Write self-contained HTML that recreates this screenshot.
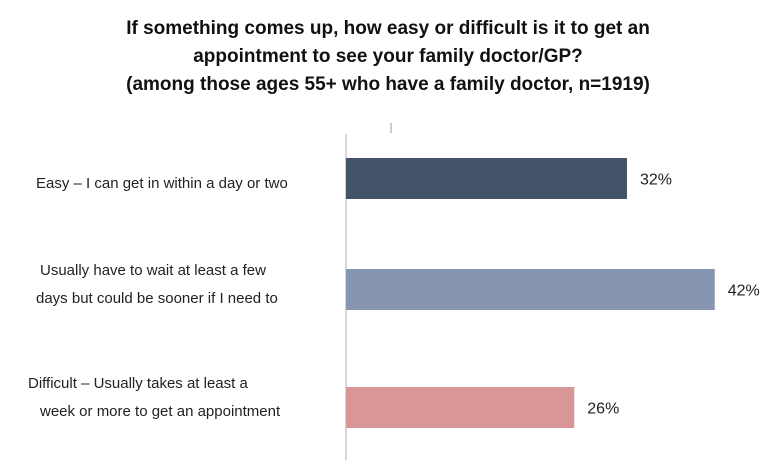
<!DOCTYPE html>
<html><head><meta charset="utf-8"><style>
body{margin:0;background:#fff;width:772px;height:460px;overflow:hidden;font-family:"Liberation Sans",sans-serif;}
</style></head><body>
<svg width="772" height="460">
<g font-weight="bold" font-size="19" fill="#111" text-anchor="middle">
<text x="388" y="34">If something comes up, how easy or difficult is it to get an</text>
<text x="388" y="62">appointment to see your family doctor/GP?</text>
<text x="388" y="90">(among those ages 55+ who have a family doctor, n=1919)</text>
</g>
<line x1="346" y1="134" x2="346" y2="460" stroke="#ccc" stroke-width="1.5"/>
<line x1="391" y1="123" x2="391" y2="133" stroke="#bbb" stroke-width="1.5"/>
<g id="bars"></g>
<g font-size="15" fill="#222">
<text x="36" y="188">Easy – I can get in within a day or two</text>
<text x="40" y="275">Usually have to wait at least a few</text>
<text x="36" y="303">days but could be sooner if I need to</text>
<text x="28" y="388">Difficult – Usually takes at least a</text>
<text x="40" y="416">week or more to get an appointment</text>
</g>
</svg>
<script>
const categories=["Easy","Usually wait a few days","Difficult"];
const values=[32,42,26];
const labels=["32%","42%","26%"];
const colors=["#435369","#8796b0","#d99696"];
const x0=346, pxPerPct=8.78;
const bandTops=[158,269,387], barH=41;
const x=v=>x0+v*pxPerPct;
const g=document.getElementById('bars');
const ns="http://www.w3.org/2000/svg";
values.forEach((v,i)=>{
 const r=document.createElementNS(ns,'rect');
 
 
 r.setAttribute('x',x0);r.setAttribute('y',bandTops[i]);
 r.setAttribute('width',x(v)-x0);r.setAttribute('height',barH);
 r.setAttribute('fill',colors[i]);g.appendChild(r);
 const t=document.createElementNS(ns,'text');
 
 
 t.setAttribute('x',x(v)+13);t.setAttribute('y',bandTops[i]+barH/2+6);
 t.setAttribute('font-size','16');t.setAttribute('fill','#222');
 t.textContent=labels[i];g.appendChild(t);
});
</script>
</body></html>
